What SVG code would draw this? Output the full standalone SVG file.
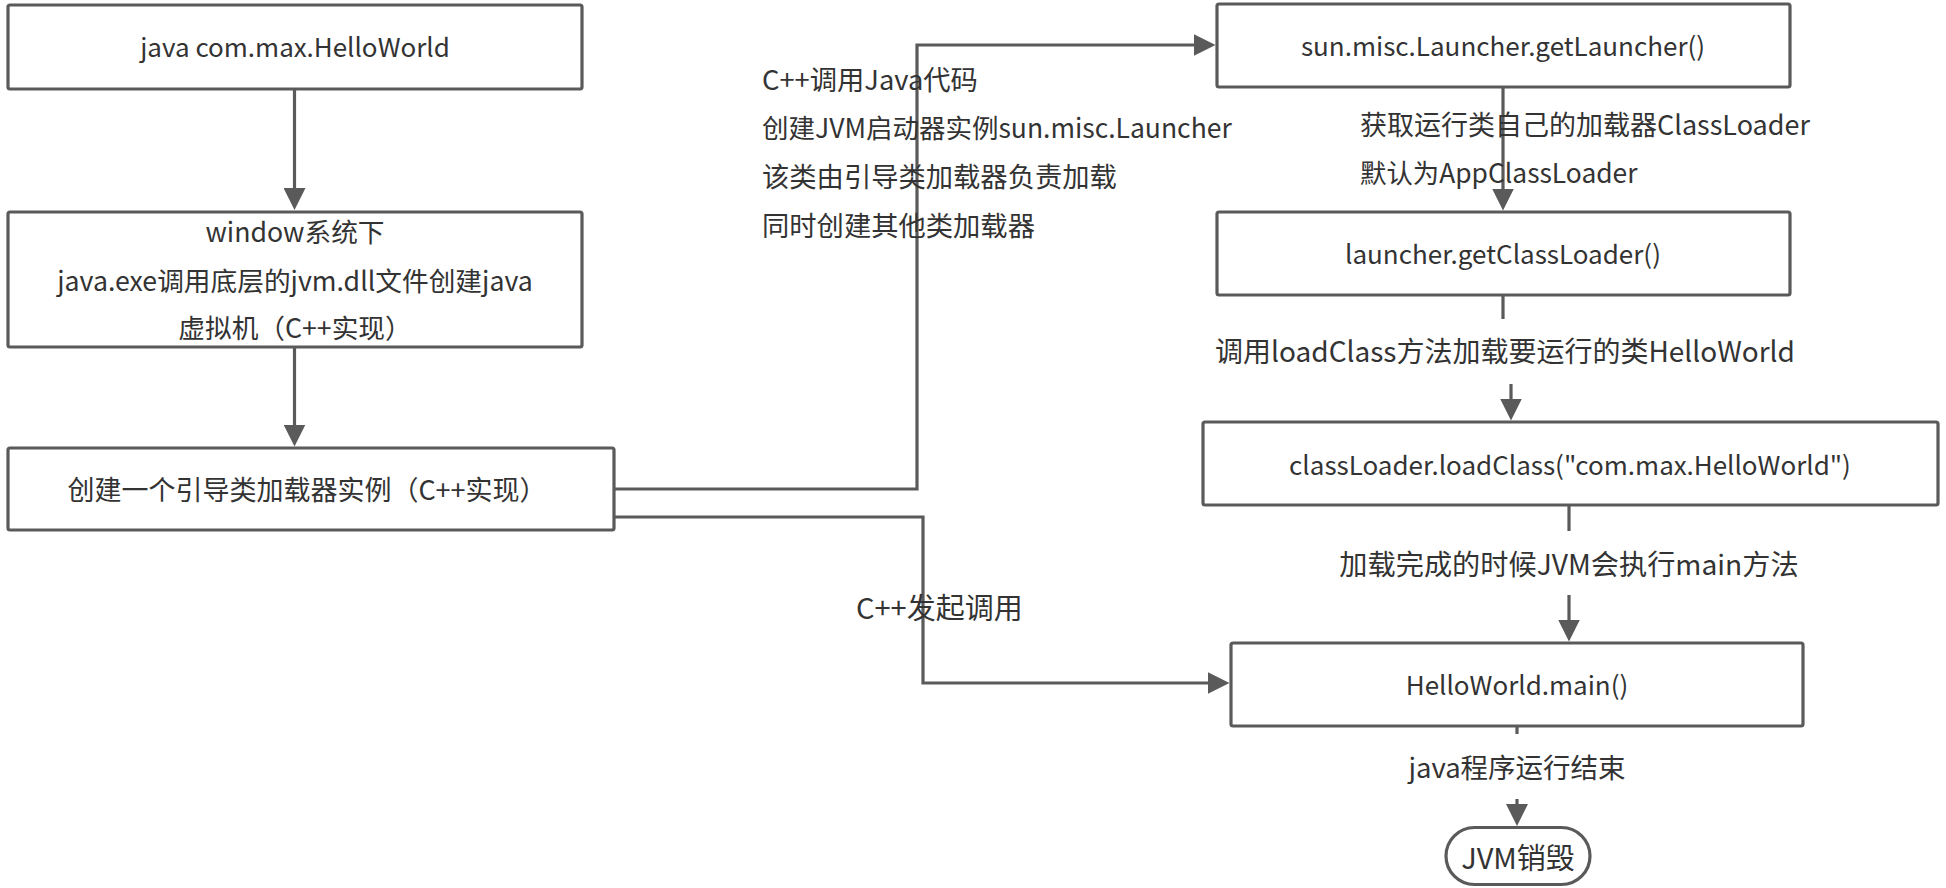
<svg xmlns="http://www.w3.org/2000/svg" width="1946" height="888" viewBox="0 0 1946 888">
<style>
.box{fill:#fff;stroke:#5a5a5a;stroke-width:3.2}
.t{font-family:"Noto Sans CJK SC","Noto Sans",sans-serif;font-size:26px;fill:#333;dominant-baseline:central}
.lb{font-size:27.3px}
.c{text-anchor:middle}
.edge{fill:none;stroke:#5a5a5a;stroke-width:3.2}
.bg{fill:#fff}
</style>
<defs>
<marker id="arr" markerUnits="userSpaceOnUse" viewBox="0 0 22 22" markerWidth="22" markerHeight="22" refX="17" refY="11" orient="auto">
<path d="M0,0 L22,11 L0,22 Z" fill="#5a5a5a"/>
</marker>
</defs>
<g id="connectors">
<path class="edge" d="M294.5,89 V205" marker-end="url(#arr)"/>
<path class="edge" d="M294.5,347 V441.5" marker-end="url(#arr)"/>
<path class="edge" d="M614,489 H917 V45 H1210.5" marker-end="url(#arr)"/>
<path class="edge" d="M614,517 H923 V683 H1224.5" marker-end="url(#arr)"/>
<path class="edge" d="M1503,87 V205.5" marker-end="url(#arr)"/>
<path class="edge" d="M1503,295 V352 H1511 V415.5" marker-end="url(#arr)"/>
<path class="edge" d="M1569,505 V636.5" marker-end="url(#arr)"/>
<path class="edge" d="M1517,726 V821" marker-end="url(#arr)"/>
</g>
<g id="n1"><rect class="box" x="8" y="5" width="574" height="84" rx="2"/><text class="t c" x="295" y="45">java com.max.HelloWorld</text></g>
<g id="n2"><rect class="box" x="8" y="212" width="574" height="135" rx="2"/>
<text class="t c" x="295" y="230" style="font-size:26.7px">window系统下</text>
<text class="t c" x="295" y="279" style="font-size:26.7px">java.exe调用底层的jvm.dll文件创建java</text>
<text class="t c" x="295" y="326" style="font-size:26.7px">虚拟机（C++实现）</text></g>
<g id="n3"><rect class="box" x="8" y="448" width="606" height="82" rx="2"/><text class="t c" x="307" y="488" style="font-size:27px">创建一个引导类加载器实例（C++实现）</text></g>
<g id="n4"><rect class="box" x="1217" y="4" width="573" height="83" rx="2"/><text class="t c" x="1503" y="44">sun.misc.Launcher.getLauncher()</text></g>
<g id="n5"><rect class="box" x="1217" y="212" width="573" height="83" rx="2"/><text class="t c" x="1503" y="252">launcher.getClassLoader()</text></g>
<g id="n6"><rect class="box" x="1203" y="422" width="735" height="83" rx="2"/><text class="t c" x="1570" y="463">classLoader.loadClass("com.max.HelloWorld")</text></g>
<g id="n7"><rect class="box" x="1231" y="643" width="572" height="83" rx="2"/><text class="t c" x="1517" y="683">HelloWorld.main()</text></g>
<g id="n8"><rect class="box" x="1446" y="827.5" width="144" height="57" rx="28.5"/><text class="t c" x="1518" y="855.5" style="font-size:29px">JVM销毁</text></g>
<g id="labels">
<text class="t lb" x="762" y="78">C++调用Java代码</text>
<text class="t lb" x="762" y="126" style="font-size:26.5px">创建JVM启动器实例sun.misc.Launcher</text>
<text class="t lb" x="762" y="175">该类由引导类加载器负责加载</text>
<text class="t lb" x="762" y="224">同时创建其他类加载器</text>
<text class="t lb" x="1360" y="123" style="font-size:27px">获取运行类自己的加载器ClassLoader</text>
<text class="t lb" x="1360" y="171" style="font-size:26.4px">默认为AppClassLoader</text>
<rect class="bg" x="1205" y="319" width="600" height="65"/>
<text class="t c" x="1505" y="350" style="font-size:28px">调用loadClass方法加载要运行的类HelloWorld</text>
<rect class="bg" x="1330" y="531" width="480" height="64"/>
<text class="t c" x="1569" y="562" style="font-size:28.2px">加载完成的时候JVM会执行main方法</text>
<text class="t" x="856" y="606" style="font-size:29px">C++发起调用</text>
<rect class="bg" x="1400" y="734" width="234" height="65"/>
<text class="t c" x="1517" y="766" style="font-size:27.5px">java程序运行结束</text>
</g>
</svg>
